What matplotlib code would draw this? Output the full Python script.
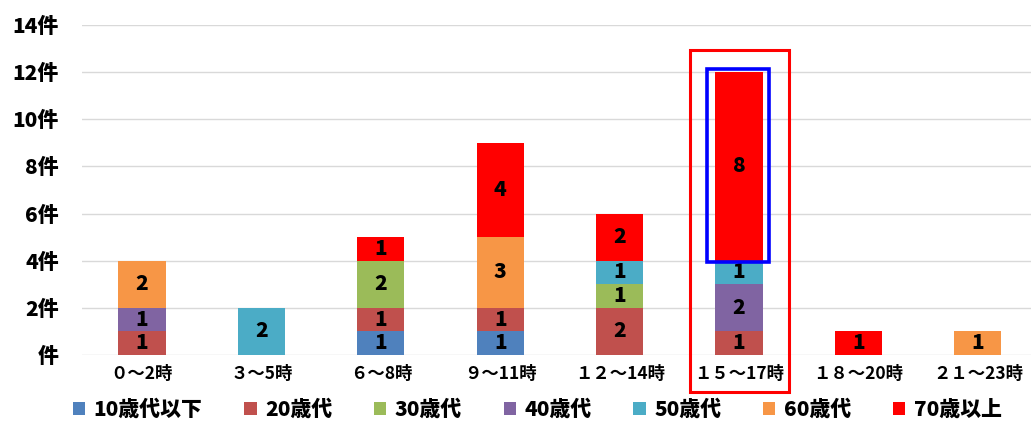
import matplotlib.pyplot as plt
from matplotlib.patches import Rectangle
import numpy as np

plt.rcParams['font.family'] = ['Noto Sans CJK JP', 'DejaVu Sans']

categories = ["０～2時", "３～5時", "６～8時", "９～11時",
              "１２～14時", "１５～17時", "１８～20時", "２１～23時"]
age_groups = ["10歳代以下", "20歳代", "30歳代", "40歳代", "50歳代", "60歳代", "70歳以上"]
colors = ["#4F81BD", "#C0504D", "#9BBB59", "#8064A2", "#4BACC6", "#F79646", "#FF0000"]

teens_under = [0, 0, 1, 1, 0, 0, 0, 0]
twenties = [1, 0, 1, 1, 2, 1, 0, 0]
thirties = [0, 0, 2, 0, 1, 0, 0, 0]
forties = [1, 0, 0, 0, 0, 2, 0, 0]
fifties = [0, 2, 0, 0, 1, 1, 0, 0]
sixties = [2, 0, 0, 3, 0, 0, 0, 1]
seventies_up = [0, 0, 1, 4, 2, 8, 1, 0]

series = [teens_under, twenties, thirties, forties, fifties, sixties, seventies_up]
yticks = [0, 2, 4, 6, 8, 10, 12, 14]

fig = plt.figure(figsize=(10.31, 4.22), dpi=100)
ax = fig.add_axes([0.0798, 0.1588, 0.9266, 0.782])

x = np.arange(len(categories))
bottom = np.zeros(len(categories))
width = 0.395

for name, vals, c in zip(age_groups, series, colors):
    vals = np.array(vals, dtype=float)
    ax.bar(x, vals, width, bottom=bottom, color=c, label=name, zorder=3)
    for xi, v, b in zip(x, vals, bottom):
        if v > 0:
            ax.text(xi, b + v / 2, f"{int(v)}", ha="center", va="center",
                    fontsize=15, fontweight="heavy", color="black", zorder=4)
    bottom += vals

# highlight boxes around 15~17 bar
hi = 5
ax.add_patch(Rectangle((hi - 0.41, -1.57), 0.83, 12.94 + 1.57, fill=False,
                       edgecolor="#FF0000", lw=2.2, clip_on=False, zorder=5))
ax.add_patch(Rectangle((hi - 0.27, 3.95), 0.52, 12.13 - 3.95, fill=False,
                       edgecolor="#0000FF", lw=2.6, clip_on=False, zorder=5))

ax.set_xlim(-0.5, 7.5)
ax.set_ylim(0, 14)
ax.set_yticks(yticks)
ax.set_yticklabels([f"{v}件" if v else "件" for v in yticks],
                   fontsize=15, fontweight="heavy")
ax.set_xticks(x)
ax.set_xticklabels(categories, fontsize=12.5, fontweight="bold")
ax.tick_params(length=0, pad=7)
ax.tick_params(axis="y", pad=17)
ax.grid(axis="y", color="#D9D9D9", lw=1, zorder=0)
for s in ax.spines.values():
    s.set_visible(False)

fig.legend(loc="center", bbox_to_anchor=(0.521, 0.03), ncol=7, frameon=False,
           prop={"size": 15, "weight": "heavy"}, handlelength=0.6,
           handleheight=0.6, handletextpad=0.4, columnspacing=2.0)

fig.savefig("out.png", dpi=100)
